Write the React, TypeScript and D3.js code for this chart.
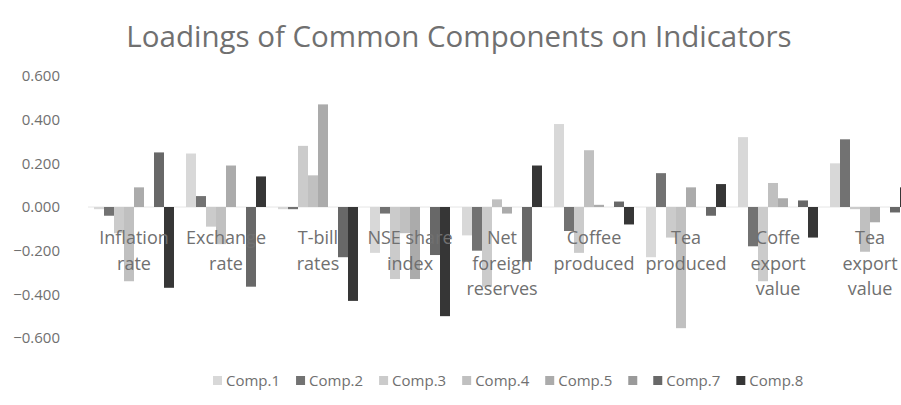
import React from "react";
import * as d3 from "d3";

const categories = [
  "Inflation rate",
  "Exchange rate",
  "T-bill rates",
  "NSE share index",
  "Net foreign reserves",
  "Coffee produced",
  "Tea produced",
  "Coffe export value",
  "Tea export value",
];
const categoryLines = [
  ["Inflation", "rate"],
  ["Exchange", "rate"],
  ["T-bill", "rates"],
  ["NSE share", "index"],
  ["Net", "foreign", "reserves"],
  ["Coffee", "produced"],
  ["Tea", "produced"],
  ["Coffe", "export", "value"],
  ["Tea", "export", "value"],
];

const seriesNames = ["Comp.1", "Comp.2", "Comp.3", "Comp.4", "Comp.5", "Comp.6", "Comp.7", "Comp.8"];
const legendLabels = ["Comp.1", "Comp.2", "Comp.3", "Comp.4", "Comp.5", "", "Comp.7", "Comp.8"];

const comp1 = [-0.01, 0.245, -0.01, -0.21, -0.13, 0.38, -0.23, 0.32, 0.2];
const comp2 = [-0.04, 0.05, -0.01, -0.03, -0.2, -0.11, 0.155, -0.18, 0.31];
const comp3 = [-0.12, -0.09, 0.28, -0.33, -0.365, -0.21, -0.14, -0.34, -0.01];
const comp4 = [-0.34, -0.17, 0.145, -0.12, 0.035, 0.26, -0.555, 0.11, -0.205];
const comp5 = [0.09, 0.19, 0.47, -0.33, -0.03, 0.01, 0.09, 0.04, -0.07];
const comp6 = [0, 0, 0, 0, 0, 0, 0, 0, 0];
const comp7 = [0.25, -0.365, -0.23, -0.22, -0.25, 0.025, -0.04, 0.03, -0.025];
const comp8 = [-0.37, 0.14, -0.43, -0.5, 0.19, -0.08, 0.105, -0.14, 0.09];

const seriesValues = [comp1, comp2, comp3, comp4, comp5, comp6, comp7, comp8];
const seriesColors = ["#d8d8d8", "#727272", "#cbcbcb", "#c0c0c0", "#ababab", "#9a9a9a", "#686868", "#363636"];

const yTicks = [0.6, 0.4, 0.2, 0, -0.2, -0.4, -0.6];

const W = 901;
const H = 405;
const FONT = "'Open Sans', 'Noto Sans', sans-serif";
const TEXT = "#707070";

function textWidth(s: string, size: number) {
  if (typeof document === "undefined") return s.length * size * 0.55;
  const c = document.createElement("canvas");
  const ctx = c.getContext("2d");
  if (!ctx) return s.length * size * 0.55;
  ctx.font = `${size}px 'Open Sans'`;
  return ctx.measureText(s).width;
}

export default function App() {
  const x = d3.scaleBand<string>().domain(categories).range([88, 916]).paddingInner(0).paddingOuter(0);
  const y = d3.scaleLinear().domain([-0.6, 0.6]).range([338, 76]);
  const inner = d3
    .scaleBand<string>()
    .domain(seriesNames)
    .range([6, x.bandwidth() - 6])
    .padding(0);
  const fmt = d3.format(".3f");

  const legendFont = 15;
  const sw = 9;
  let lx = 213;
  const legendItems = legendLabels.map((lab, i) => {
    const item = { x: lx, label: lab, color: seriesColors[i] };
    lx += sw + (lab ? 4 + textWidth(lab, legendFont) : 0) + 16;
    return item;
  });

  return (
    <svg
      width={W}
      height={H}
      style={{ position: "fixed", left: 0, top: 0, background: "#fff" }}
      fontFamily={FONT}
    >
      <rect width={W} height={H} fill="#fff" />
      <text x={459} y={47} textAnchor="middle" fontSize={29.5} fill={TEXT}>
        Loadings of Common Components on Indicators
      </text>

      {yTicks.map((t) => (
        <text key={t} x={60} y={y(t)} dy="0.35em" textAnchor="end" fontSize={15} fill={TEXT}>
          {fmt(t)}
        </text>
      ))}

      <line x1={88} x2={W} y1={y(0)} y2={y(0)} stroke="#e6e6e6" strokeWidth={1} />

      {categories.map((c, ci) => (
        <g key={c}>
          {seriesValues.map((vals, si) => {
            const v = vals[ci];
            const bx = (x(c) as number) + (inner(seriesNames[si]) as number);
            const y0 = y(0);
            const y1 = y(v);
            return (
              <rect
                key={si}
                x={bx}
                width={inner.bandwidth()}
                y={Math.min(y0, y1)}
                height={Math.abs(y1 - y0)}
                fill={seriesColors[si]}
              />
            );
          })}
        </g>
      ))}

      {categories.map((c, ci) => (
        <text
          key={c}
          x={(x(c) as number) + x.bandwidth() / 2}
          y={238}
          textAnchor="middle"
          fontSize={18}
          fill={TEXT}
        >
          {categoryLines[ci].map((ln, li) => (
            <tspan key={li} x={(x(c) as number) + x.bandwidth() / 2} y={238 + li * 25.5} dy="0.35em">
              {ln}
            </tspan>
          ))}
        </text>
      ))}

      {legendItems.map((it, i) => (
        <g key={i}>
          <rect x={it.x} y={376} width={sw} height={sw} fill={it.color} />
          {it.label && (
            <text x={it.x + sw + 4} y={380.5} dy="0.35em" fontSize={legendFont} fill={TEXT}>
              {it.label}
            </text>
          )}
        </g>
      ))}
    </svg>
  );
}
